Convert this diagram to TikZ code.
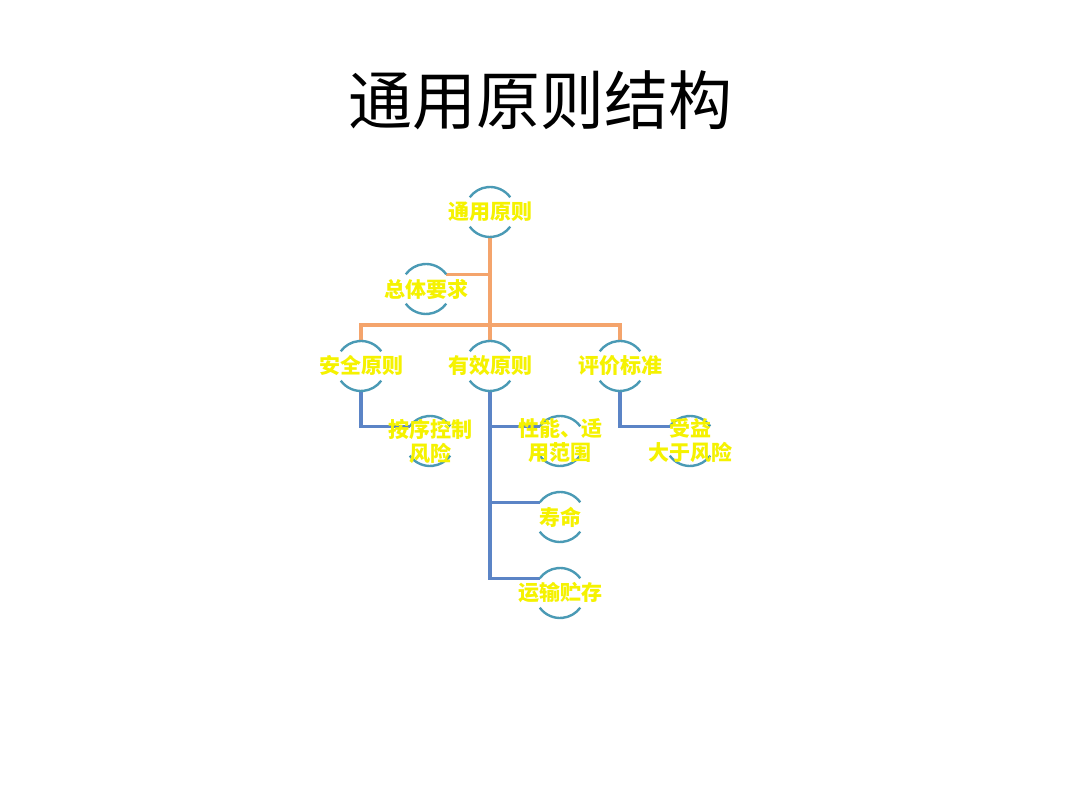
\documentclass[tikz,border=0pt]{standalone}
\usepackage{fontspec}
\newfontfamily\cjk{Noto Sans CJK SC}
\definecolor{txtyellow}{HTML}{F5F200}
\definecolor{arcblue}{HTML}{4A9AB5}
\definecolor{lineorange}{HTML}{F4A46C}
\definecolor{lineblue}{HTML}{5B84C6}
\tikzset{
  cnode/.style={circle,minimum size=50bp,inner sep=0pt,outer sep=0pt},
  txt/.style={text=txtyellow,font=\cjk\fontsize{21bp}{24bp}\selectfont\bfseries,align=center,inner sep=0pt},
  arcst/.style={draw=arcblue,line width=2.4bp},
  orl/.style={draw=lineorange,line width=3.2bp},
  bll/.style={draw=lineblue,line width=3.2bp},
}
\newcommand{\halfarcs}[1]{%
  \draw[arcst] (#1.36) arc[start angle=36,end angle=144,radius=25bp];
  \draw[arcst] (#1.216) arc[start angle=216,end angle=324,radius=25bp];}
\begin{document}
\begin{tikzpicture}[x=1bp,y=1bp]
\useasboundingbox[fill=white] (0,0) rectangle (1080,810);
\node[font=\cjk\fontsize{64bp}{70bp}\selectfont] (title) at (540,710) {通用原则结构};
% circle nodes
\node[cnode] (root) at (490,598) {};
\node[cnode] (req) at (426,521) {};
\node[cnode] (safe) at (361,444) {};
\node[cnode] (eff) at (490,444) {};
\node[cnode] (eval) at (620,444) {};
\node[cnode] (anxu) at (430,369) {};
\node[cnode] (xn) at (560,369) {};
\node[cnode] (sy) at (690,369) {};
\node[cnode] (sm) at (560,293) {};
\node[cnode] (ys) at (560,217) {};
% connectors
\draw[orl] (root.south) -- (eff.north);
\draw[orl] (req.36) -- (req.36 -| root.south);
\coordinate (bus) at (490,485);
\draw[orl] (safe.north) -- (safe.north |- bus) -- (eval.north |- bus) -- (eval.north);
\draw[bll] (safe.south) |- (anxu.144);
\draw[bll] (eff.south) |- (ys.144);
\draw[bll] (xn.144 -| eff.south) -- (xn.144);
\draw[bll] (sm.144 -| eff.south) -- (sm.144);
\draw[bll] (eval.south) |- (sy.144);
% arcs
\foreach \n in {root,req,safe,eff,eval,anxu,xn,sy,sm,ys}{\halfarcs{\n}}
% texts
\node[txt] (root-t) at (root) {通用原则};
\node[txt] (req-t) at (req) {总体要求};
\node[txt] (safe-t) at (safe) {安全原则};
\node[txt] (eff-t) at (eff) {有效原则};
\node[txt] (eval-t) at (eval) {评价标准};
\node[txt] (anxu-t) at (anxu) {按序控制\\风险};
\node[txt] (xn-t) at (xn) {性能、适\\用范围};
\node[txt] (sy-t) at (sy) {受益\\大于风险};
\node[txt] (sm-t) at (sm) {寿命};
\node[txt] (ys-t) at (ys) {运输贮存};
\end{tikzpicture}
\end{document}
